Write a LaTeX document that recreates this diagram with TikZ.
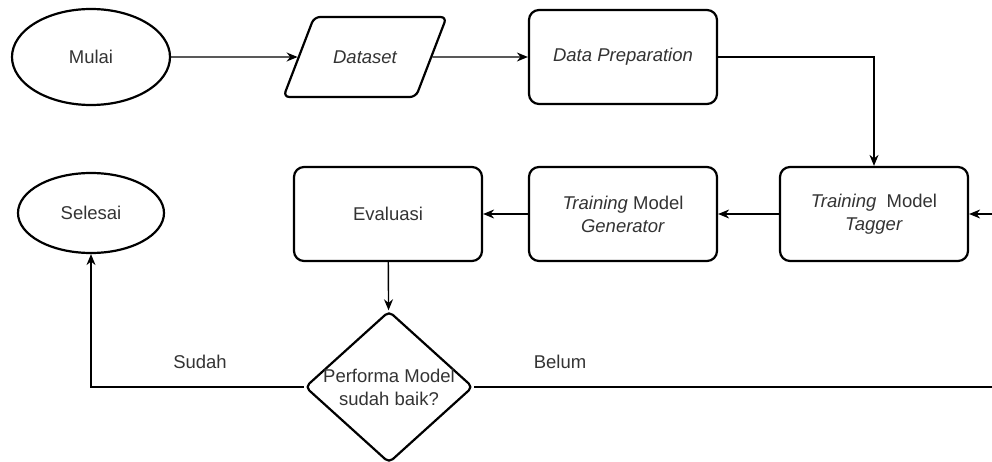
\documentclass[tikz,border=0pt]{standalone}
\usepackage{fontspec}
\setmainfont{Liberation Sans}
\usetikzlibrary{shapes.geometric,arrows.meta}
\begin{document}
\begin{tikzpicture}[x=1pt,y=-1pt,
  base/.style={draw, line width=2.2pt, text=black!80, font=\fontsize{18.5}{23}\selectfont, align=center, inner sep=0pt},
  proc/.style={base, rounded corners=10pt, minimum width=188pt, minimum height=94pt},
  term/.style={base, ellipse},
  conn/.style={line width=1.4pt, -{Stealth[length=11pt,width=9pt]}},
  lbl/.style={text=black!80, font=\fontsize{18.5}{23}\selectfont}]
\useasboundingbox (0,0) rectangle (992,462);
\clip (0,0) rectangle (992,462);

\node[term, minimum width=158pt, minimum height=96pt] (mulai) at (91,57) {Mulai};
\node[base, trapezium, trapezium left angle=69, trapezium right angle=111,
      text height=13pt, text depth=0pt, inner xsep=19pt, inner ysep=33.5pt, rounded corners=6pt] (ds) at (365,57) {\itshape Dataset};
\node[proc] (dp) at (623,57) {\itshape Data Preparation};
\node[proc] (tag) at (874,214) {\textit{Training}\ \ Model\\\textit{Tagger}};
\node[proc] (gen) at (623,214) {\textit{Training} Model\\\textit{Generator}};
\node[proc] (ev) at (388,214) {Evaluasi};
\node[term, minimum width=146pt, minimum height=80pt] (sel) at (91,213) {Selesai};
\node[base, diamond, minimum width=168pt, minimum height=152pt, aspect=1.1, rounded corners=5pt,
      label={[lbl, align=center]center:Performa Model\\sudah baik?}] (dia) at (389,387) {};

\coordinate (ra) at (1000,387);
\coordinate (rb) at (1000,214);

\draw[conn] (mulai) -- (ds);
\draw[conn] (ds) -- (dp);
\draw[conn] (dp.east) -| (tag.north);
\draw[conn] (tag) -- (gen);
\draw[conn] (gen) -- (ev);
\draw[conn] (ev) -- (dia);
\draw[conn] (dia.west) -| (sel.south);
\draw[conn] (dia.east) -- (ra) -- (rb) -- (tag.east);

\node[lbl] (sudah) at (200,362) {Sudah};
\node[lbl] (belum) at (560,362) {Belum};
\end{tikzpicture}
\end{document}
